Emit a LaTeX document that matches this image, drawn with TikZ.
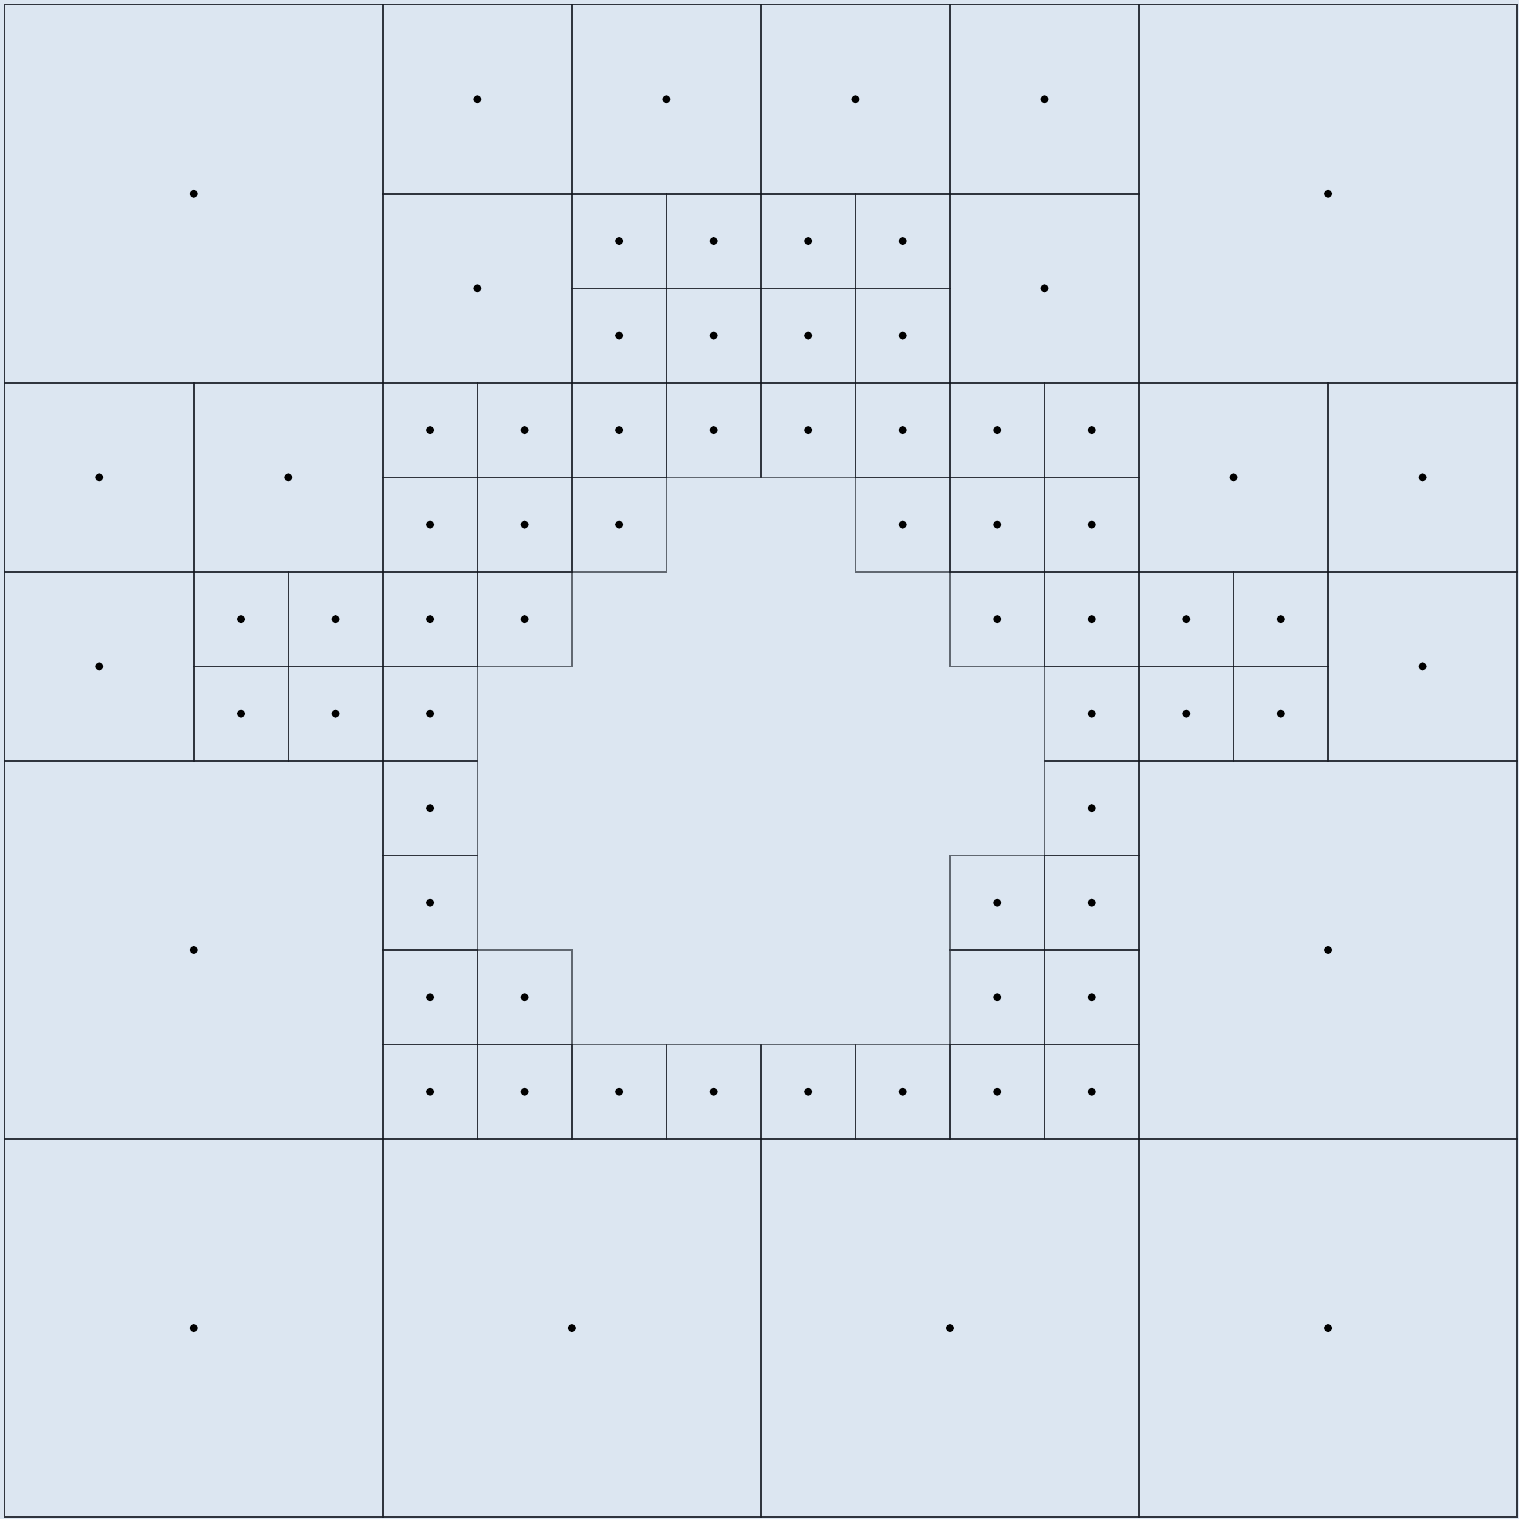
\documentclass[tikz,border=0pt]{standalone}
\usepackage{tikz}
\definecolor{cellfill}{HTML}{DCE6F1}
\definecolor{cellline}{HTML}{10141C}

\begin{document}
\begin{tikzpicture}[x=1cm, y=-1cm,
    cell/.style={draw=cellline, draw opacity=0.6, line width=0.45pt},
    pt/.style={fill=black}]
        \fill[cellfill] (-0.05,-0.05) rectangle (16.02,16.02);
        % big cells
        \foreach \x/\y in {0/0,12/0,0/8,12/8,0/12,4/12,8/12,12/12} {
          \draw[cell] (\x,\y) rectangle ++(4,4);
          \fill[pt] (\x+2,\y+2) circle (0.042);}
        % middle cells
        \foreach \x/\y in {4/0,6/0,8/0,10/0,4/2,10/2,0/4,2/4,12/4,14/4,0/6,14/6} {
          \draw[cell] (\x,\y) rectangle ++(2,2);
          \fill[pt] (\x+1,\y+1) circle (0.042);}
        % small cells, row by row
        \foreach \y/\xs in {2/{6,7,8,9}, 3/{6,7,8,9}, 4/{4,5,6,7,8,9,10,11},
            5/{4,5,6,9,10,11}, 6/{2,3,4,5,10,11,12,13}, 7/{2,3,4,11,12,13},
            8/{4,11}, 9/{4,10,11}, 10/{4,5,10,11}, 11/{4,5,6,7,8,9,10,11}} {
          \foreach \x in \xs {
            \draw[cell] (\x,\y) rectangle ++(1,1);
            \fill[pt] (\x+0.5,\y+0.5) circle (0.042);}}
        \draw[cell] (0,0) rectangle (16,16);
      \end{tikzpicture}
\end{document}
